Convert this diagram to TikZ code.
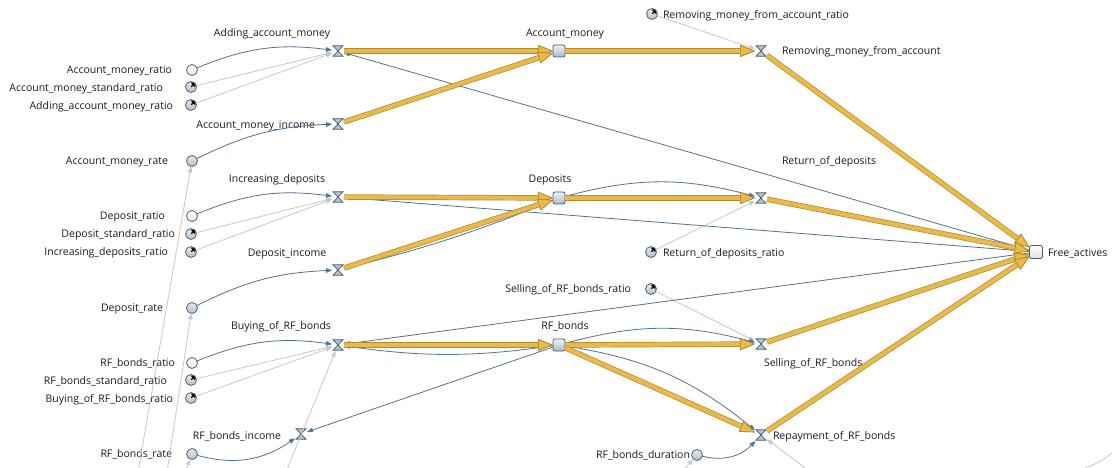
\documentclass[tikz,border=0pt]{standalone}
\usepackage{fontspec}
\setmainfont{Open Sans}
\usetikzlibrary{arrows.meta}
\definecolor{txt}{HTML}{1A1A26}
\definecolor{lkc}{HTML}{507391}
\definecolor{glc}{HTML}{C8C8C8}
\definecolor{gold}{HTML}{E9B94B}
\definecolor{golddark}{HTML}{B48A2C}
\definecolor{valvefill}{HTML}{B2C3D2}
\definecolor{valveline}{HTML}{55636F}
\definecolor{stockline}{HTML}{4E5A66}
\definecolor{paramfill}{HTML}{C6D5E3}
\begin{document}
\begin{tikzpicture}[x=1pt,y=-1pt,
  lbl/.style={inner sep=0pt, outer sep=0pt, text=txt, yshift=-1.5pt, font=\fontsize{10.5}{12}\selectfont},
  valve/.style={rectangle, minimum width=12pt, minimum height=12pt, inner sep=0pt, outer sep=0pt,
    path picture={\filldraw[fill=valvefill, draw=valveline, line width=0.8pt, line join=miter]
      ([shift={(-5pt,5.3pt)}]path picture bounding box.center) -- ++(10pt,0pt) -- ++(-10pt,-10.6pt) -- ++(10pt,0pt) -- cycle;}},
  stock/.style={rectangle, rounded corners=2pt, minimum size=12pt, inner sep=0pt, outer sep=0pt,
    draw=stockline, line width=0.8pt, top color=white!70!paramfill, bottom color=paramfill!85!black!95},
  freestock/.style={stock, minimum size=13pt, top color=white, bottom color=black!12},
  param/.style={circle, minimum size=11pt, inner sep=0pt, outer sep=0pt, draw=valveline, line width=0.8pt,
    top color=white!50!paramfill, bottom color=paramfill!90!black},
  wparam/.style={param, top color=white, bottom color=black!10},
  shad/.style={param, path picture={\fill[black]
      ([shift={(5.5pt,5.5pt)}]path picture bounding box.center) -- ++(-5.8pt,-1.3pt) -- ++(4.5pt,-4.5pt) -- cycle;
      \draw[black, line width=1.2pt] ([shift={(0.3pt,0.3pt)}]path picture bounding box.center) -- ([shift={(3pt,3pt)}]path picture bounding box.center);}},
  lk/.style={draw=lkc, line width=0.8pt, -{Triangle[length=6pt,width=4.5pt]}},
  gl/.style={draw=glc, line width=0.8pt, -{Triangle[length=6pt,width=4.5pt]}},
  fl/.style={draw=gold, line width=4pt,
    -{Triangle[length=15pt,width=12pt,line width=0.7pt,fill=gold,color=golddark]},
    preaction={draw=golddark, line width=5.4pt,
      -{Triangle[length=15pt,width=12pt,line width=0.7pt,fill=golddark,color=golddark]}}}
]
\useasboundingbox (0,0) rectangle (1112,468);
\fill[white] (0,0) rectangle (1112,468);

% ---------- valves ----------
\node[valve] (v_add)  at (338,51)  {};
\node[valve] (v_ami)  at (338,124) {};
\node[valve] (v_rem)  at (761,51)  {};
\node[valve] (v_inc)  at (338,197) {};
\node[valve] (v_dinc) at (338,270) {};
\node[valve] (v_ret)  at (761,198) {};
\node[valve] (v_buy)  at (338,345) {};
\node[valve] (v_rfi)  at (301,434) {};
\node[valve] (v_sell) at (761,344) {};
\node[valve] (v_rep)  at (761,435) {};

% ---------- stocks ----------
\node[stock] (s_am)  at (559,51)  {};
\node[stock] (s_dep) at (559,198) {};
\node[stock] (s_rf)  at (559,345) {};
\node[freestock] (s_fa) at (1036,252) {};

% ---------- parameters ----------
\node[wparam] (p_amr)  at (192,70)  {};
\node[wparam] (p_dr)   at (192,216) {};
\node[wparam] (p_rfr)  at (192,363) {};
\node[param] (p_amrate) at (192,161) {};
\node[param] (p_drate)  at (192,308) {};
\node[param] (p_rfrate) at (192,454) {};
\node[param] (p_rfdur)  at (697,455) {};
\node[shad] (h_amsr) at (191,87)  {};
\node[shad] (h_aamr) at (191,105) {};
\node[shad] (h_dsr)  at (191,234) {};
\node[shad] (h_idr)  at (191,252) {};
\node[shad] (h_rfsr) at (191,380) {};
\node[shad] (h_brfr) at (191,398) {};
\node[shad] (h_rmr)  at (652,14)  {};
\node[shad] (h_rdr)  at (651,252) {};
\node[shad] (h_srr)  at (651,289) {};

% ---------- labels ----------
\node[lbl] (l_add)  at (272,32)  {Adding\_account\_money};
\node[lbl] (l_am)   at (565,32)  {Account\_money};
\node[lbl] (l_inc)  at (277,178) {Increasing\_deposits};
\node[lbl] (l_dep)  at (550,178) {Deposits};
\node[lbl] (l_dinc) at (287,252) {Deposit\_income};
\node[lbl] (l_buy)  at (281,325) {Buying\_of\_RF\_bonds};
\node[lbl] (l_rf)   at (565,325) {RF\_bonds};
\node[lbl] (l_rfi)  at (237,435) {RF\_bonds\_income};
\node[lbl, anchor=east] (l_ami)  at (315,124) {Account\_money\_income};
\node[lbl, anchor=west] (l_rmr)  at (663,14)  {Removing\_money\_from\_account\_ratio};
\node[lbl, anchor=west] (l_rem)  at (782,50)  {Removing\_money\_from\_account};
\node[lbl, anchor=west] (l_ret)  at (782,160) {Return\_of\_deposits};
\node[lbl, anchor=west] (l_rdr)  at (663,252) {Return\_of\_deposits\_ratio};
\node[lbl, anchor=east] (l_srr)  at (631,288) {Selling\_of\_RF\_bonds\_ratio};
\node[lbl, anchor=west] (l_sell) at (764,362) {Selling\_of\_RF\_bonds};
\node[lbl, anchor=west] (l_rep)  at (773,435) {Repayment\_of\_RF\_bonds};
\node[lbl, anchor=east] (l_rfdur) at (690,454) {RF\_bonds\_duration};
\node[lbl, anchor=west] (l_fa)   at (1048,252) {Free\_actives};
\node[lbl, anchor=east] (l_amr)  at (172,69)  {Account\_money\_ratio};
\node[lbl, anchor=east] (l_amsr) at (163,87)  {Account\_money\_standard\_ratio};
\node[lbl, anchor=east] (l_aamr) at (173,105) {Adding\_account\_money\_ratio};
\node[lbl, anchor=east] (l_amrate) at (168,160) {Account\_money\_rate};
\node[lbl, anchor=east] (l_dr)   at (165,215) {Deposit\_ratio};
\node[lbl, anchor=east] (l_dsr)  at (175,233) {Deposit\_standard\_ratio};
\node[lbl, anchor=east] (l_idr)  at (168,251) {Increasing\_deposits\_ratio};
\node[lbl, anchor=east] (l_drate) at (163,307) {Deposit\_rate};
\node[lbl, anchor=east] (l_rfr)  at (175,362) {RF\_bonds\_ratio};
\node[lbl, anchor=east] (l_rfsr) at (167,380) {RF\_bonds\_standard\_ratio};
\node[lbl, anchor=east] (l_brfr) at (173,398) {Buying\_of\_RF\_bonds\_ratio};
\node[lbl, anchor=east] (l_rfrate) at (172,453) {RF\_bonds\_rate};

% ---------- free ends (off-picture sources) ----------
\coordinate (o1) at (138,472);
\coordinate (o2) at (167,472);
\coordinate (o3) at (184,476);
\coordinate (o4) at (286,472);
\coordinate (o5) at (680,474);
\coordinate (o6) at (808,470);
\coordinate (o7) at (1080,470);
\coordinate (o8) at (1116,450);

% ---------- gray links ----------
\draw[gl] (h_amsr) -- (v_add);
\draw[gl] (h_aamr) -- (v_add);
\draw[gl] (h_dsr) -- (v_inc);
\draw[gl] (h_idr) -- (v_inc);
\draw[gl] (h_rfsr) -- (v_buy);
\draw[gl] (h_brfr) -- (v_buy);
\draw[gl] (h_rmr) -- (v_rem);
\draw[gl] (h_rdr) -- (v_ret);
\draw[gl] (h_srr) -- (v_sell);
\draw[gl] (o1) -- (p_amrate);
\draw[gl] (o2) -- (p_drate);
\draw[gl] (o3) -- (p_rfrate);
\draw[gl] (o4) -- (v_buy);
\draw[gl] (o5) -- (p_rfdur);
\draw[gl] (o6) -- (v_rep);
\draw[glc, line width=0.8pt] (o7) to[bend right=10] (o8);

% ---------- blue links ----------
\draw[lk] (p_amr) to[bend left=15] (v_add);
\draw[lk] (p_amrate) to[bend left=12] (v_ami);
\draw[lk] (s_fa) -- (v_add);
\draw[lk] (p_dr) to[bend left=15] (v_inc);
\draw[lk] (s_fa) -- (v_inc);
\draw[lk] (s_dep) to[bend left=4] (v_dinc);
\draw[lk] (p_drate) to[bend left=12] (v_dinc);
\draw[lk] (s_dep) to[bend left=15] (v_ret);
\draw[lk] (s_fa) -- (v_buy);
\draw[lk] (s_rf) to[bend left=8] (v_buy);
\draw[lk] (p_rfr) to[bend left=15] (v_buy);
\draw[lk] (s_rf) -- (v_rfi);
\draw[lk] (p_rfrate) to[bend right=25] (v_rfi);
\draw[lk] (s_rf) to[bend left=15] (v_sell);
\draw[lk] (s_rf) to[bend left=15] (v_rep);
\draw[lk] (p_rfdur) to[bend right=30] (v_rep);

% ---------- flows ----------
\draw[fl] (v_add) -- (s_am);
\draw[fl] (v_ami) -- (s_am);
\draw[fl] (s_am) -- (v_rem);
\draw[fl] (v_rem) -- (s_fa);
\draw[fl] (v_inc) -- (s_dep);
\draw[fl] (v_dinc) -- (s_dep);
\draw[fl] (s_dep) -- (v_ret);
\draw[fl] (v_ret) -- (s_fa);
\draw[fl] (v_buy) -- (s_rf);
\draw[fl] (s_rf) -- (v_sell);
\draw[fl] (s_rf) -- (v_rep);
\draw[fl] (v_sell) -- (s_fa);
\draw[fl] (v_rep) -- (s_fa);
\end{tikzpicture}
\end{document}
